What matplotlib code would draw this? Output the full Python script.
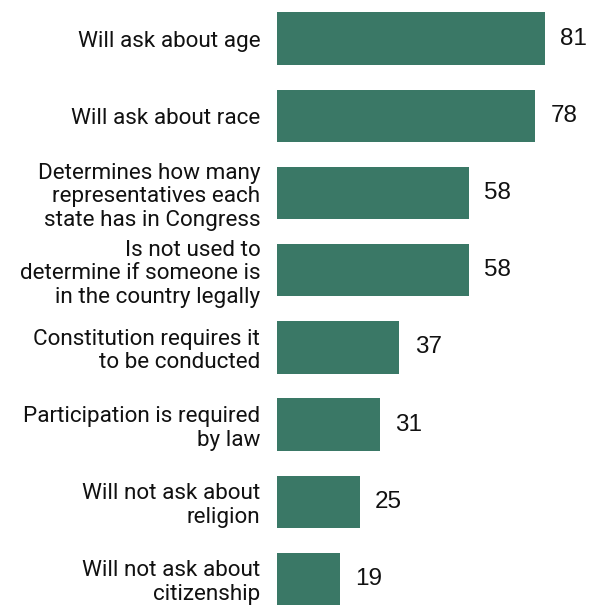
import matplotlib
matplotlib.use("Agg")
import matplotlib.pyplot as plt
import numpy as np

categories = [
    "Will ask about age",
    "Will ask about race",
    "Determines how many\nrepresentatives each\nstate has in Congress",
    "Is not used to\ndetermine if someone is\nin the country legally",
    "Constitution requires it\nto be conducted",
    "Participation is required\nby law",
    "Will not ask about\nreligion",
    "Will not ask about\ncitizenship",
]
values = [81, 78, 58, 58, 37, 31, 25, 19]

bar_color = "#3a7866"

fig = plt.figure(figsize=(6.03, 6.06), dpi=100)
# axes placed so the bars start at ~277px and the rows are ~77px apart
ax = fig.add_axes([277 / 603, 1 - 617.6 / 606, 268 / 603, 617.6 / 606])

y = np.arange(len(values))
bars = ax.barh(y, values, height=0.68, color=bar_color)
ax.set_xlim(0, 81)
ax.set_ylim(len(values) - 0.5, -0.5)

ax.set_yticks(y)
ax.set_yticklabels(categories, fontsize=16.2, family="Roboto", color="#111111",
                   linespacing=1.15)
ax.tick_params(axis="y", length=0, pad=12)
ax.set_xticks([])
for s in ax.spines.values():
    s.set_visible(False)

labels = ax.bar_label(bars, padding=11, fontsize=17.5, family="Liberation Sans",
                      color="#111111")
for t in labels:
    t.set_clip_on(False)

fig.savefig("out.png", dpi=100)
